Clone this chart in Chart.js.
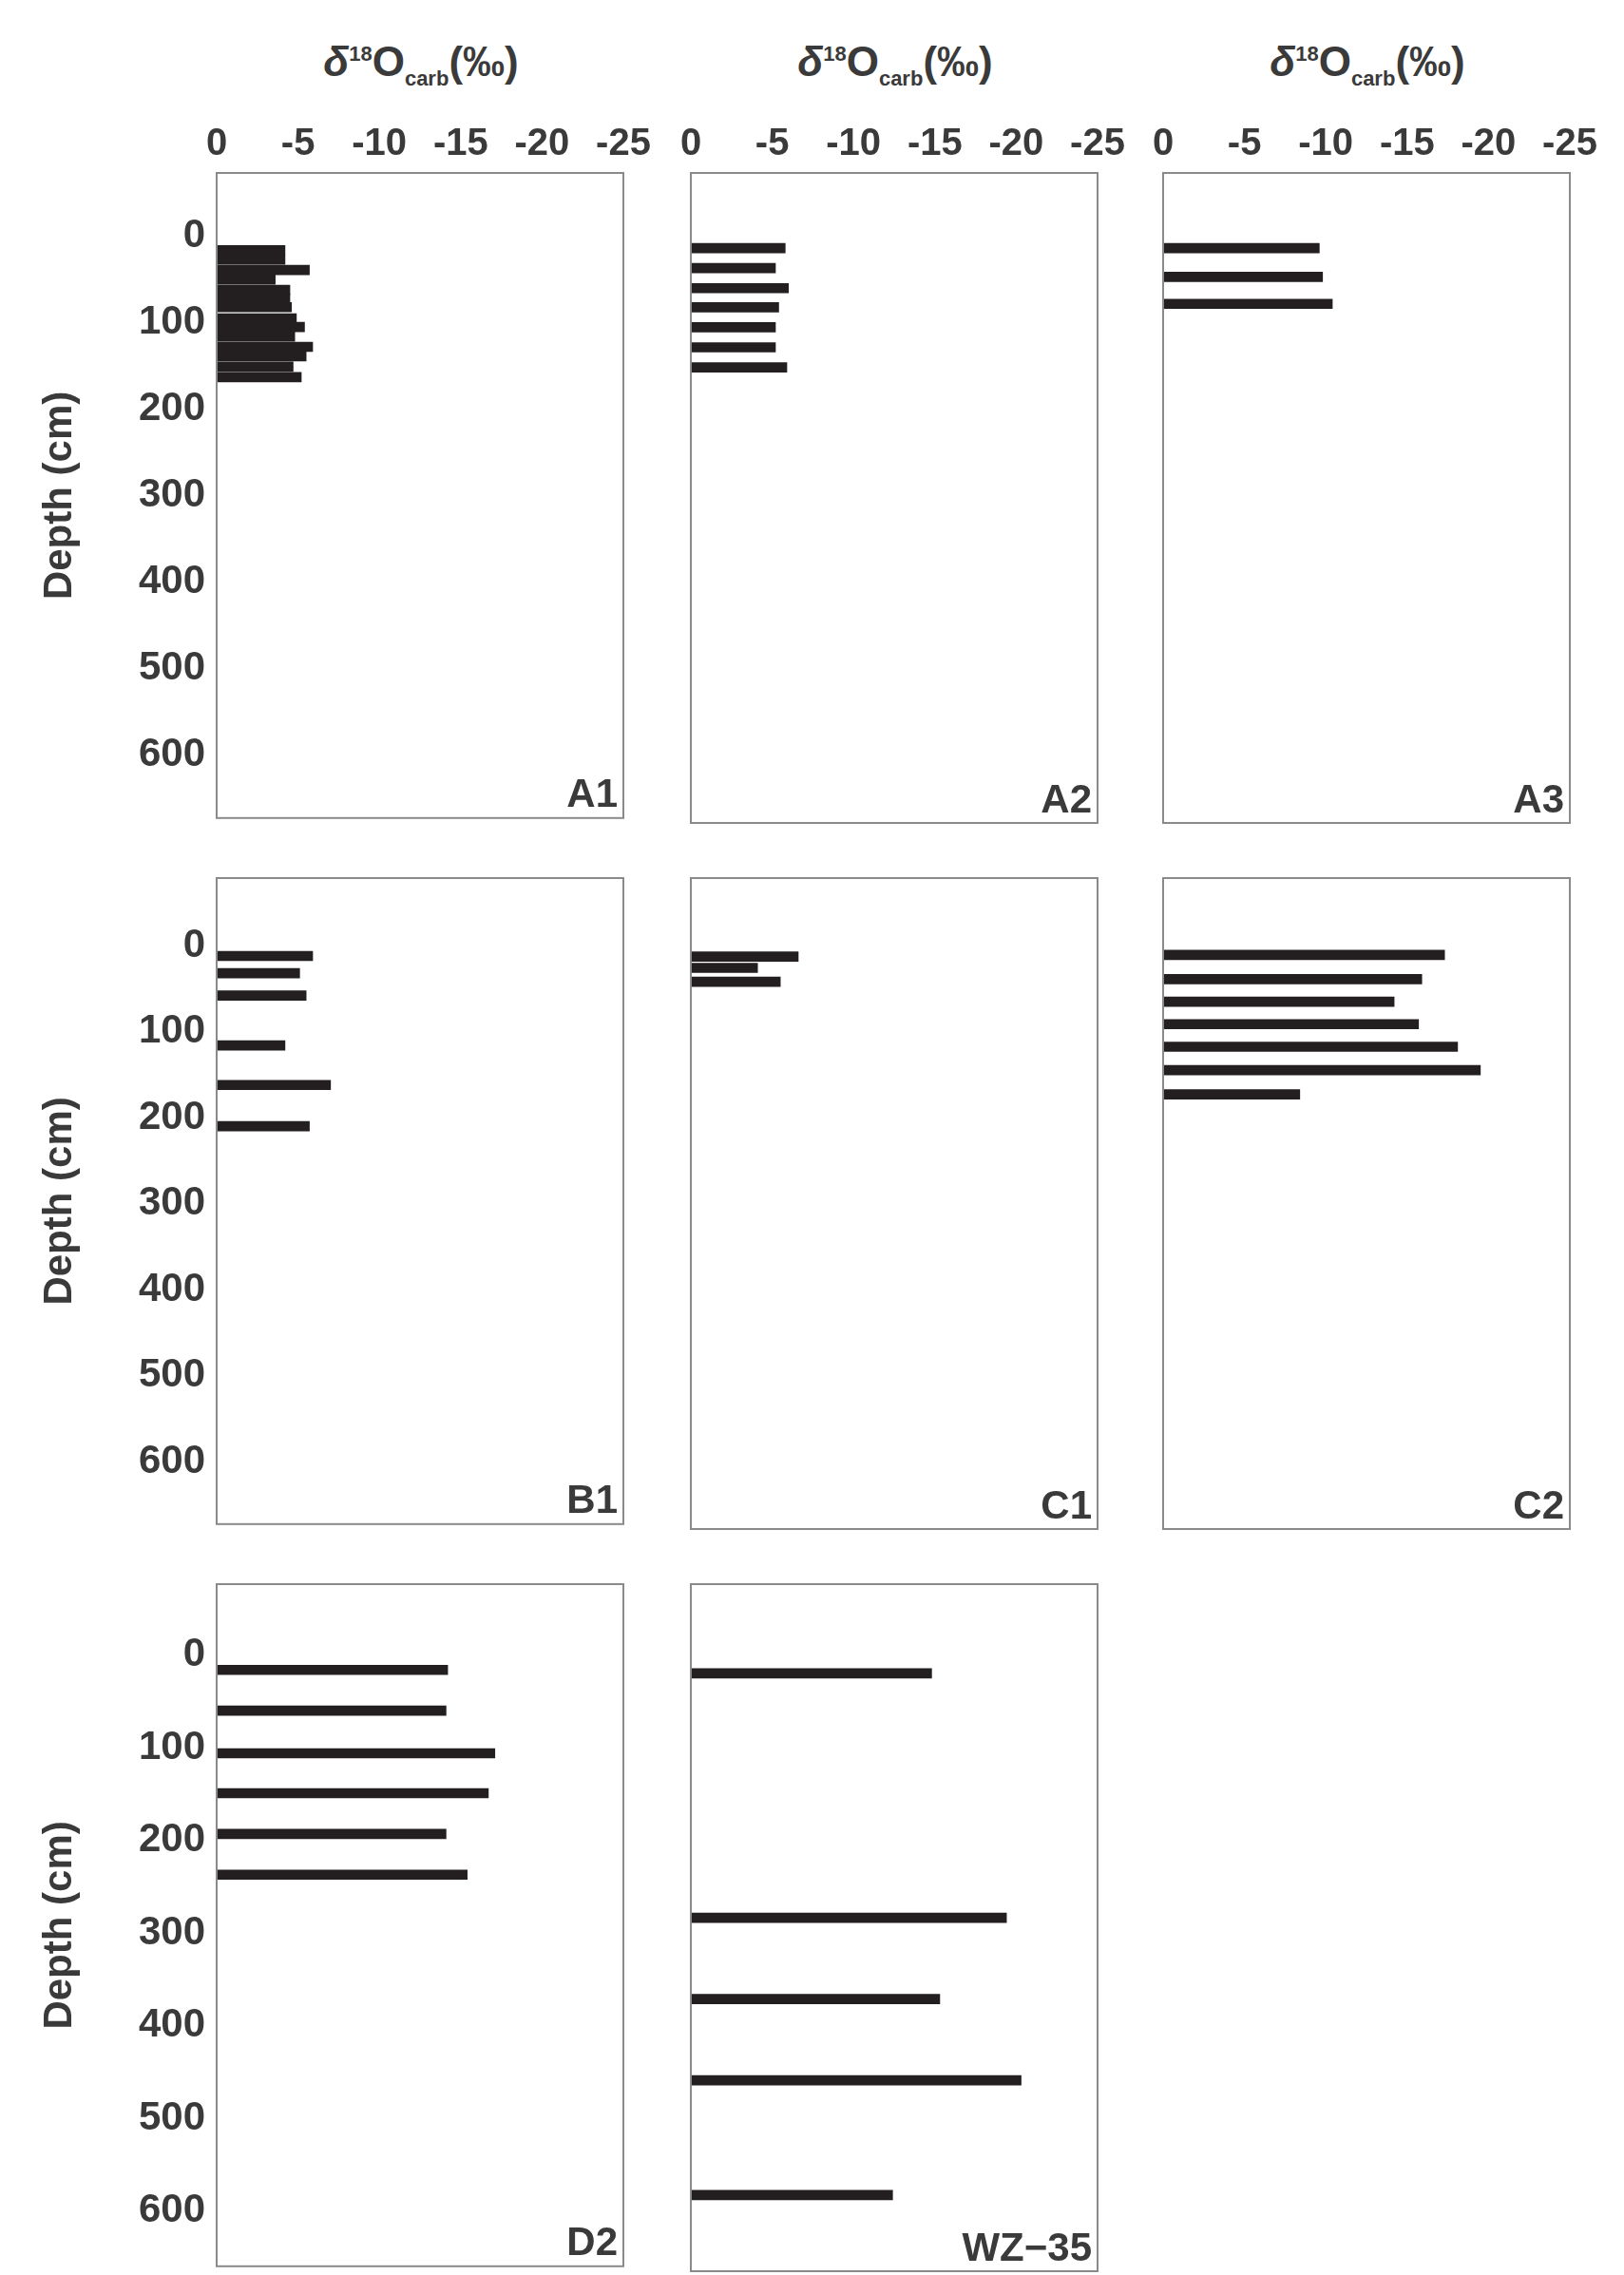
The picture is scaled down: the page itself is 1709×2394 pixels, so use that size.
<!DOCTYPE html>
<html>
<head>
<meta charset="utf-8">
<script src="https://cdn.jsdelivr.net/npm/chart.js@4.4.1/dist/chart.umd.min.js"></script>
<style>
  html, body { margin: 0; padding: 0; background: #fff; }
  body { width: 1709px; height: 2394px; position: relative; overflow: hidden; font-family: 'Liberation Sans', Arial, sans-serif; }
  canvas { position: absolute; }
  .title { position: absolute; top: 40px; width: 430px; text-align: center; font-size: 44px; font-weight: bold; color: #3a3a3a; }
  .title sup { font-size: 22px; }
  .title sub { font-size: 22px; }
</style>
</head>
<body>
<script>
'use strict';

// ── Datos: profundidad (cm) y δ18O (valor absoluto, ‰) por perfil ──────
const depthA1 = [16, 27, 39, 50, 62, 72, 82, 95, 105, 116, 128, 139, 151, 163];
const valA1   = [4.2, 4.2, 5.7, 3.6, 4.5, 4.5, 4.6, 4.9, 5.4, 4.8, 5.9, 5.5, 4.7, 5.2];
const depthA2 = [13, 36, 59, 81, 104, 127, 150];
const valA2   = [5.8, 5.2, 6.0, 5.4, 5.2, 5.2, 5.9];
const depthA3 = [13, 46, 77];
const valA3   = [9.6, 9.8, 10.4];
const depthB1 = [12, 32, 58, 116, 162, 210];
const valB1   = [5.9, 5.1, 5.5, 4.2, 7.0, 5.7];
const depthC1 = [12, 25, 41];
const valC1   = [6.6, 4.1, 5.5];
const depthC2 = [10, 38, 64, 90, 116, 143, 171];
const valC2   = [17.3, 15.9, 14.2, 15.7, 18.1, 19.5, 8.4];
const depthD2 = [16, 60, 106, 149, 193, 237];
const valD2   = [14.2, 14.1, 17.1, 16.7, 14.1, 15.4];
const depthWZ = [19, 281, 368, 455, 578];
const valWZ   = [14.8, 19.4, 15.3, 20.3, 12.4];

const xTicks = [0, 5, 10, 15, 20, 25];
const yTicks = [0, 100, 200, 300, 400, 500, 600];

// ── Layout ─────────────────────────────────────────────────────────────
const COLS = [{ l: 228, r: 656 }, { l: 727, r: 1155 }, { l: 1224, r: 1652 }];
const ROWS = [
  { t: 182, b: 866,  min: -20, max: 620 },
  { t: 924, b: 1609, min: -25, max: 619 },
  { t: 1667, b: 2390, min: -24, max: 607 },
];
const PANELS = [
  { name: 'A1', r: 0, c: 0, d: depthA1, v: valA1 },
  { name: 'A2', r: 0, c: 1, d: depthA2, v: valA2 },
  { name: 'A3', r: 0, c: 2, d: depthA3, v: valA3 },
  { name: 'B1', r: 1, c: 0, d: depthB1, v: valB1 },
  { name: 'C1', r: 1, c: 1, d: depthC1, v: valC1 },
  { name: 'C2', r: 1, c: 2, d: depthC2, v: valC2 },
  { name: 'D2', r: 2, c: 0, d: depthD2, v: valD2 },
  { name: 'WZ−35', r: 2, c: 1, d: depthWZ, v: valWZ },
];

const INK  = '#3a3a3a';
const BAR  = '#231f20';
const EDGE = '#8a8a8a';
const FONT = "'Liberation Sans', Arial, sans-serif";
const PAD  = 26;   // margen vertical para que Chart.js no encoja el área

// titulos superiores (texto real)
COLS.forEach(col => {
  const t = document.createElement('div');
  t.className = 'title';
  t.style.left = (col.l) + 'px';
  t.innerHTML = '<i>δ</i><sup>18</sup>O<sub>carb</sub>(‰)';
  document.body.appendChild(t);
});

const boxPlugin = {
  id: 'box',
  afterDraw(chart, args, opts) {
    const { ctx, chartArea: a } = chart;
    ctx.save();
    ctx.strokeStyle = EDGE;
    ctx.lineWidth = 2;
    ctx.strokeRect(a.left, a.top, a.right - a.left, a.bottom - a.top);
    ctx.fillStyle = INK;
    ctx.font = 'bold 42px ' + FONT;
    ctx.textAlign = 'right';
    ctx.textBaseline = 'bottom';
    ctx.fillText(opts.label, a.right - 6, a.bottom - 2);
    ctx.restore();
  },
};

PANELS.forEach(p => {
  const col = COLS[p.c], row = ROWS[p.r];
  const left = p.c === 0 ? 190 : 20;
  const xh   = p.r === 0 ? 62 : 14;
  const top  = xh + PAD;
  const cv = document.createElement('canvas');
  const w = (col.r - col.l) + left + 50;
  const h = (row.b - row.t) + top + PAD;
  cv.style.left = (col.l - left) + 'px';
  cv.style.top  = (row.t - top) + 'px';
  cv.style.width = w + 'px';
  cv.style.height = h + 'px';
  cv.width = w; cv.height = h;
  document.body.appendChild(cv);

  new Chart(cv, {
    type: 'bar',
    data: {
      datasets: [{
        data: p.d.map((d, i) => ({ x: p.v[i], y: d })),
        backgroundColor: BAR,
        barThickness: 10,
      }],
    },
    plugins: [boxPlugin],
    options: {
      indexAxis: 'y',
      responsive: false,
      animation: false,
      devicePixelRatio: 1,
      layout: { padding: { right: 50, bottom: PAD, top: PAD, left: 0 } },
      plugins: { legend: { display: false }, tooltip: { enabled: false }, box: { label: p.name } },
      scales: {
        x: {
          type: 'linear', position: 'top', min: 0, max: 25,
          afterBuildTicks: s => { s.ticks = xTicks.map(v => ({ value: v })); },
          afterFit: s => { s.height = xh; },
          grid: { display: false, drawTicks: true, tickLength: 6, tickColor: EDGE },
          border: { display: false },
          ticks: {
            display: p.r === 0, padding: 0, maxRotation: 0, autoSkip: false,
            color: INK, font: { family: FONT, size: 40, weight: 'bold' },
            callback: v => v === 0 ? '0' : '-' + v,
          },
        },
        y: {
          type: 'linear', reverse: true, min: row.min, max: row.max,
          afterBuildTicks: s => { s.ticks = yTicks.map(v => ({ value: v })); },
          afterFit: s => { s.width = left; },
          grid: { display: false, drawTicks: true, tickLength: 6, tickColor: EDGE },
          border: { display: false },
          ticks: {
            display: p.c === 0, padding: 6, autoSkip: false,
            color: INK, font: { family: FONT, size: 42, weight: 'bold' },
          },
          title: {
            display: p.c === 0, text: 'Depth (cm)', color: INK, padding: 0,
            font: { family: FONT, size: 42, weight: 'bold' },
          },
        },
      },
    },
  });
});
</script>
</body>
</html>
